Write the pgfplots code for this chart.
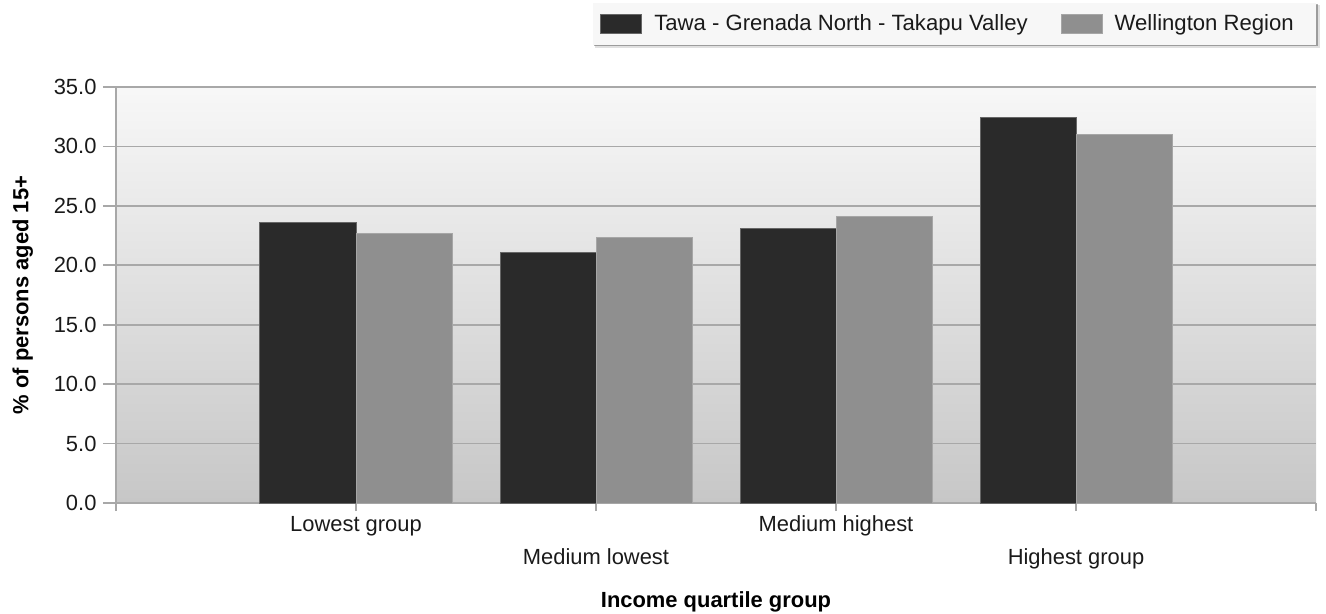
\documentclass[border=0pt]{standalone}
\usepackage{pgfplots}
\pgfplotsset{compat=1.18}
\usepackage{fontspec}
\setmainfont{Liberation Sans}
\usetikzlibrary{calc}
\definecolor{tawa}{HTML}{2A2A2A}
\definecolor{well}{HTML}{8F8F8F}
\definecolor{gridc}{HTML}{A8A8A8}
\definecolor{txt}{HTML}{1A1A1A}
\begin{document}
\begin{tikzpicture}
\begin{axis}[name=ax,
  scale only axis, width=600bp, height=208bp,
  xmin=0, xmax=5, ymin=0, ymax=35,
  clip=false,
  ybar=0pt, bar width=48bp,
  /pgf/number format/assume math mode=true,
  xtick={0,1,2,3,4,5},
  xticklabels={,{\strut Lowest group},{\strut\\Medium lowest},{\strut Medium highest},{\strut\\Highest group},},
  xticklabel style={align=center, font=\fontsize{11}{16.5}\selectfont, text=txt, yshift=5bp},
  ytick={0,5,...,35},
  yticklabel={\pgfmathprintnumber[fixed,fixed zerofill,precision=1,assume math mode=true]{\tick}},
  yticklabel style={font=\fontsize{11}{13}\selectfont, text=txt, xshift=-2bp},
  ymajorgrids, grid style={gridc, line width=0.8bp},
  axis x line*=bottom, axis y line*=left,
  axis line style={gridc, line width=0.8bp, -},
  every outer x axis line/.append style={-},
  every outer y axis line/.append style={-},
  tick style={gridc, line width=0.8bp},
  tick align=outside,
  xtick style={/pgfplots/major tick length=4bp},
  ytick style={/pgfplots/major tick length=6.5bp},
  axis background/.style={top color=white!97!black, bottom color=white!78!black},
  ylabel={\bfseries \% of persons aged 15+},
  ylabel style={font=\fontsize{11}{13}\selectfont, text=black},
  ylabel shift=3.5bp,
  xlabel={\bfseries Income quartile group},
  xlabel style={font=\fontsize{11}{13}\selectfont, text=black},
  xlabel shift=4.5bp,
  legend style={at={(axis description cs:0.4033,1.1514)}, anchor=west, legend columns=2,
    draw=none, fill=none,
    font=\fontsize{11.1}{13}\selectfont, text=txt,
    inner sep=0pt, nodes={inner sep=0pt},
    /tikz/every odd column/.append style={column sep=6bp},
    /tikz/every even column/.append style={column sep=16.5bp}},
  legend image code/.code={\fill[#1] (0bp,-4.75bp) rectangle (20.5bp,4.75bp);},
]
% legend frame with shadow (decoration)
\fill[black, opacity=0.12] (axis description cs:0.3990,1.0938) rectangle (axis description cs:1.0035,1.1971);
\fill[black, opacity=0.3] (axis description cs:0.3985,1.0974) rectangle (axis description cs:1.0020,1.1995);
\fill[white!97!black] (axis description cs:0.3975,1.1010) rectangle (axis description cs:1.0,1.2019);
\addplot[fill=tawa, draw=gray!80!black, line width=0.5bp] coordinates {(1,23.6) (2,21.1) (3,23.1) (4,32.4)};
\addplot[fill=well, draw=gray!70, line width=0.5bp] coordinates {(1,22.7) (2,22.3) (3,24.1) (4,31.0)};
\legend{Tawa - Grenada North - Takapu Valley, Wellington Region}
\end{axis}
\pgfresetboundingbox
\path[use as bounding box] ($(ax.south west)+(-58bp,-55.5bp)$) rectangle ($(ax.north east)+(5bp,43.5bp)$);
\end{tikzpicture}
\end{document}
